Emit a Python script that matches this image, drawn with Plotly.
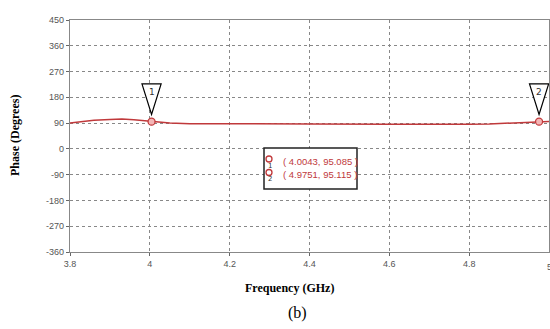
import plotly.graph_objects as go

freq = [3.80, 3.83, 3.86, 3.90, 3.93, 3.96, 4.00, 4.02, 4.05, 4.10, 4.20, 4.40, 4.60, 4.70, 4.80, 4.85, 4.90, 4.95, 4.975, 5.00]
phase = [90, 95, 100, 103, 104, 102, 96, 93, 90, 88, 87, 87, 86, 85, 86, 87, 90, 93, 95, 96]
marker_x = [4.0043, 4.9751]
marker_y = [95.085, 95.115]
marker_names = ["1", "2"]
x_ticks = [3.8, 4, 4.2, 4.4, 4.6, 4.8, 5]
y_ticks = [-360, -270, -180, -90, 0, 90, 180, 270, 360, 450]

L, R, T, B = 70, 1, 20, 77
W, H = 550, 329
pw, ph = W - L - R, H - T - B

def px(x):
    return (x - L) / pw

def py(y):
    return (H - B - y) / ph

red = "#c0393b"
fig = go.Figure()
fig.add_trace(go.Scatter(x=freq, y=phase, mode="lines", line=dict(color=red, width=1.5), hoverinfo="skip"))
fig.add_trace(go.Scatter(x=marker_x, y=marker_y, mode="markers",
                         marker=dict(symbol="circle", size=7, color="#f4b6b6", line=dict(color=red, width=1.3))))

# triangle marker flags
hw = 0.024
for mx, name in zip(marker_x, marker_names):
    fig.add_shape(type="path", xref="x", yref="y",
                  path=f"M {mx-hw},227 L {mx+hw},227 L {mx},120 Z",
                  line=dict(color="black", width=1.2), fillcolor="white")
    fig.add_annotation(x=mx, y=198, xref="x", yref="y", text=name, showarrow=False,
                       xanchor="center", yanchor="middle",
                       font=dict(family="DejaVu Sans", size=9, color="#333"))

# marker table box
fig.add_shape(type="rect", xref="paper", yref="paper", x0=px(264), x1=px(357), y0=py(189), y1=py(148),
              line=dict(color="#222", width=1.5), fillcolor="white")
for i, (mx, my, name) in enumerate(zip(marker_x, marker_y, marker_names)):
    ty = 161 + i * 13.5
    fig.add_annotation(x=px(281), y=py(ty), xref="paper", yref="paper", xanchor="left", yanchor="middle",
                       text=f"( {mx:.4f}, {my:.3f} )", showarrow=False,
                       font=dict(family="Liberation Sans", size=9.5, color=red))
    fig.add_shape(type="circle", xref="paper", yref="paper",
                  x0=px(266), x1=px(272), y0=py(ty + 1), y1=py(ty - 5),
                  line=dict(color=red, width=1.3), fillcolor="white")
    fig.add_annotation(x=px(270), y=py(ty + 4.5), xref="paper", yref="paper",
                       xanchor="center", yanchor="middle",
                       text=name, showarrow=False,
                       font=dict(family="DejaVu Sans", size=7, color="#333"))

fig.add_annotation(x=px(297), y=py(313), xref="paper", yref="paper", text="(b)", showarrow=False,
                   xanchor="center", yanchor="middle",
                   font=dict(family="Liberation Serif", size=16, color="black"))
fig.add_annotation(x=px(289), y=py(288), xref="paper", yref="paper", text="<b>Frequency (GHz)</b>",
                   xanchor="center", yanchor="middle",
                   showarrow=False, font=dict(family="Liberation Serif", size=12, color="black"))
fig.add_annotation(x=px(15), y=py(136), xref="paper", yref="paper", text="<b>Phase (Degrees)</b>",
                   xanchor="center", yanchor="middle",
                   textangle=-90, showarrow=False,
                   font=dict(family="Liberation Serif", size=12, color="black"))
fig.add_annotation(x=5, y=py(267), xref="x", yref="paper", text="5", showarrow=False,
                   xanchor="center", yanchor="middle",
                   font=dict(family="Liberation Sans", size=9, color="#555"))

fig.update_layout(
    width=W, height=H, showlegend=False,
    margin=dict(l=L, r=R, t=T, b=B, autoexpand=False),
    plot_bgcolor="white", paper_bgcolor="white",
    xaxis=dict(range=[3.8, 5.0], tickvals=x_ticks[:-1], ticktext=[str(v) for v in x_ticks[:-1]],
               showgrid=True, gridcolor="#888", griddash="dot", gridwidth=1,
               showline=True, linecolor="#888", mirror=True, linewidth=1.3,
               ticks="outside", ticklen=3, tickcolor="#666", automargin=False,
               tickfont=dict(family="Liberation Sans", size=9, color="#555"),
               zeroline=False),
    yaxis=dict(range=[-360, 450], tickvals=y_ticks, ticktext=[str(v) for v in y_ticks],
               showgrid=True, gridcolor="#888", griddash="dot", gridwidth=1,
               showline=True, linecolor="#888", mirror=True, linewidth=1.3,
               ticks="outside", ticklen=3, tickcolor="#666", automargin=False,
               tickfont=dict(family="Liberation Sans", size=9, color="#555"),
               zeroline=False),
)
fig.write_html("out.html", config={"displayModeBar": False},
               post_script="document.body.style.margin='0';document.body.style.overflow='hidden';")
